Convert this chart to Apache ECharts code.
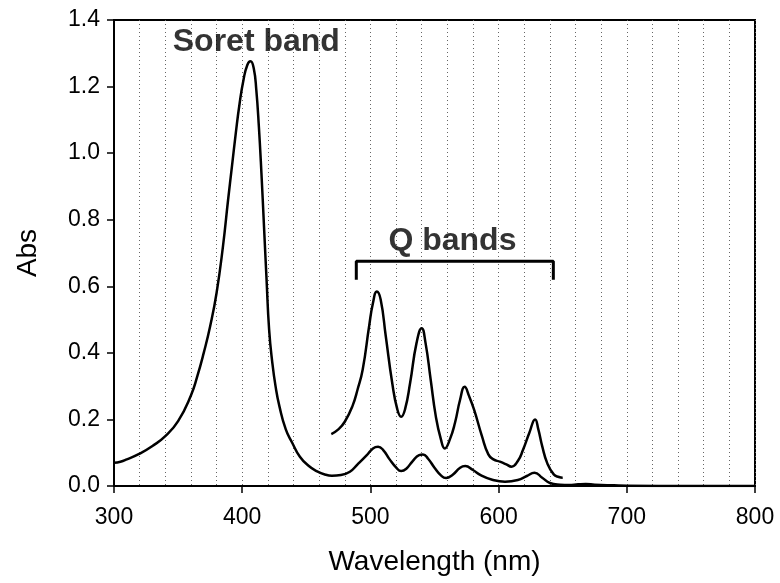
<!DOCTYPE html>
<html>
<head>
<meta charset="utf-8">
<script src="https://cdn.jsdelivr.net/npm/echarts@6/dist/echarts.min.js"></script>
<style>
  html, body { margin: 0; padding: 0; background: #fff; }
  #chart { width: 780px; height: 583px; }
</style>
</head>
<body>
<div id="chart"></div>
<script>
  // full spectrum (nm, Abs)
  var fullWl = [300, 305, 310, 320, 330, 340, 350, 360, 365, 370, 375, 380, 385, 389, 392, 395, 398, 401, 404, 406.5, 409, 411, 413, 415, 417, 419, 421, 423.5, 426, 429, 434, 439, 445, 452, 458, 465, 470, 477, 484, 490, 497, 502, 506, 510, 515, 520, 524, 528, 533, 538, 541, 545, 550, 555, 559, 564, 570, 574, 580, 586, 595, 605, 615, 622, 628, 634, 640, 648, 655, 662, 668, 675, 690, 700, 750, 800];
  var fullAbs = [0.070, 0.073, 0.080, 0.097, 0.120, 0.150, 0.195, 0.272, 0.330, 0.400, 0.480, 0.580, 0.720, 0.860, 0.960, 1.060, 1.150, 1.220, 1.265, 1.276, 1.255, 1.190, 1.080, 0.940, 0.780, 0.620, 0.470, 0.370, 0.300, 0.240, 0.170, 0.130, 0.088, 0.060, 0.045, 0.034, 0.031, 0.033, 0.043, 0.065, 0.092, 0.113, 0.118, 0.108, 0.080, 0.056, 0.045, 0.052, 0.075, 0.093, 0.095, 0.082, 0.055, 0.032, 0.024, 0.033, 0.055, 0.060, 0.048, 0.033, 0.019, 0.013, 0.018, 0.030, 0.040, 0.025, 0.009, 0.004, 0.003, 0.005, 0.006, 0.004, 0.002, 0.001, 0, 0];

  // magnified Q band region
  var qWl = [469.5, 475, 480, 486, 490, 494, 499, 502, 505, 508, 512, 517, 521, 524, 527, 531, 536, 540, 543, 547, 551, 555, 558, 562, 566, 570, 573.5, 577, 581, 587, 592, 596, 601, 606, 610, 615, 619, 624, 628.5, 631, 634, 638, 643, 647, 650];
  var qAbs = [0.156, 0.170, 0.193, 0.240, 0.290, 0.350, 0.480, 0.550, 0.584, 0.560, 0.450, 0.310, 0.230, 0.208, 0.230, 0.310, 0.430, 0.474, 0.430, 0.320, 0.210, 0.140, 0.113, 0.140, 0.190, 0.260, 0.298, 0.270, 0.228, 0.150, 0.095, 0.080, 0.073, 0.065, 0.058, 0.075, 0.108, 0.160, 0.200, 0.170, 0.120, 0.068, 0.035, 0.027, 0.025];

  // bracket over the Q bands
  var bracketWl = [489, 489, 642.7, 642.7];
  var bracketAbs = [0.62, 0.675, 0.675, 0.62];

  // annotation labels
  var noteText = ['Soret band', 'Q bands'];
  var noteWl = [411, 564];
  var noteAbs = [1.332, 0.737];

  function pairs(xs, ys) {
    return xs.map(function (x, i) { return [x, ys[i]]; });
  }

  var chart = echarts.init(document.getElementById('chart'));
  chart.setOption({
    animation: false,
    grid: {
      left: 114, right: 25, top: 20, bottom: 97,
      show: true, borderColor: '#000', borderWidth: 2, backgroundColor: '#fff'
    },
    xAxis: {
      type: 'value',
      min: 300, max: 800, interval: 100,
      name: 'Wavelength (nm)',
      nameLocation: 'middle',
      nameGap: 62,
      nameTextStyle: { fontFamily: 'Liberation Sans', fontSize: 28, color: '#000' },
      axisLine: { lineStyle: { color: '#000', width: 2 } },
      axisTick: { length: 7, lineStyle: { color: '#000', width: 1.5 } },
      axisLabel: { margin: 20, fontFamily: 'Liberation Sans', fontSize: 23, color: '#000' },
      splitLine: { show: true, lineStyle: { color: '#666', width: 1, type: [1, 3] } },
      minorTick: { show: false, splitNumber: 5 },
      minorSplitLine: { show: true, lineStyle: { color: '#666', width: 1, type: [1, 3] } }
    },
    yAxis: {
      type: 'value',
      min: 0, max: 1.4, interval: 0.2,
      name: 'Abs',
      nameLocation: 'middle',
      nameGap: 72,
      nameTextStyle: { fontFamily: 'Liberation Sans', fontSize: 28, color: '#000' },
      axisLine: { show: true, lineStyle: { color: '#000', width: 2 } },
      axisTick: { show: true, length: 7, lineStyle: { color: '#000', width: 1.5 } },
      axisLabel: {
        margin: 14, fontFamily: 'Liberation Sans', fontSize: 23, color: '#000',
        formatter: function (v) { return v.toFixed(1); }
      },
      splitLine: { show: false }
    },
    series: [
      {
        name: 'full',
        type: 'line',
        data: pairs(fullWl, fullAbs),
        smooth: 0.5,
        symbol: 'none',
        lineStyle: { color: '#000', width: 2.5 }
      },
      {
        name: 'Q',
        type: 'line',
        data: pairs(qWl, qAbs),
        smooth: 0.5,
        symbol: 'none',
        lineStyle: { color: '#000', width: 2.5 }
      },
      {
        name: 'bracket',
        type: 'line',
        data: pairs(bracketWl, bracketAbs),
        symbol: 'none',
        lineStyle: { color: '#000', width: 3 }
      },
      {
        name: 'notes',
        type: 'scatter',
        symbolSize: 0,
        data: noteText.map(function (t, i) { return { name: t, value: [noteWl[i], noteAbs[i]] }; }),
        label: {
          show: true,
          position: 'inside',
          formatter: '{b}',
          fontFamily: 'Liberation Sans',
          fontWeight: 'bold',
          fontSize: 32,
          color: '#000',
          textBorderWidth: 0
        }
      }
    ]
  });
</script>
</body>
</html>
